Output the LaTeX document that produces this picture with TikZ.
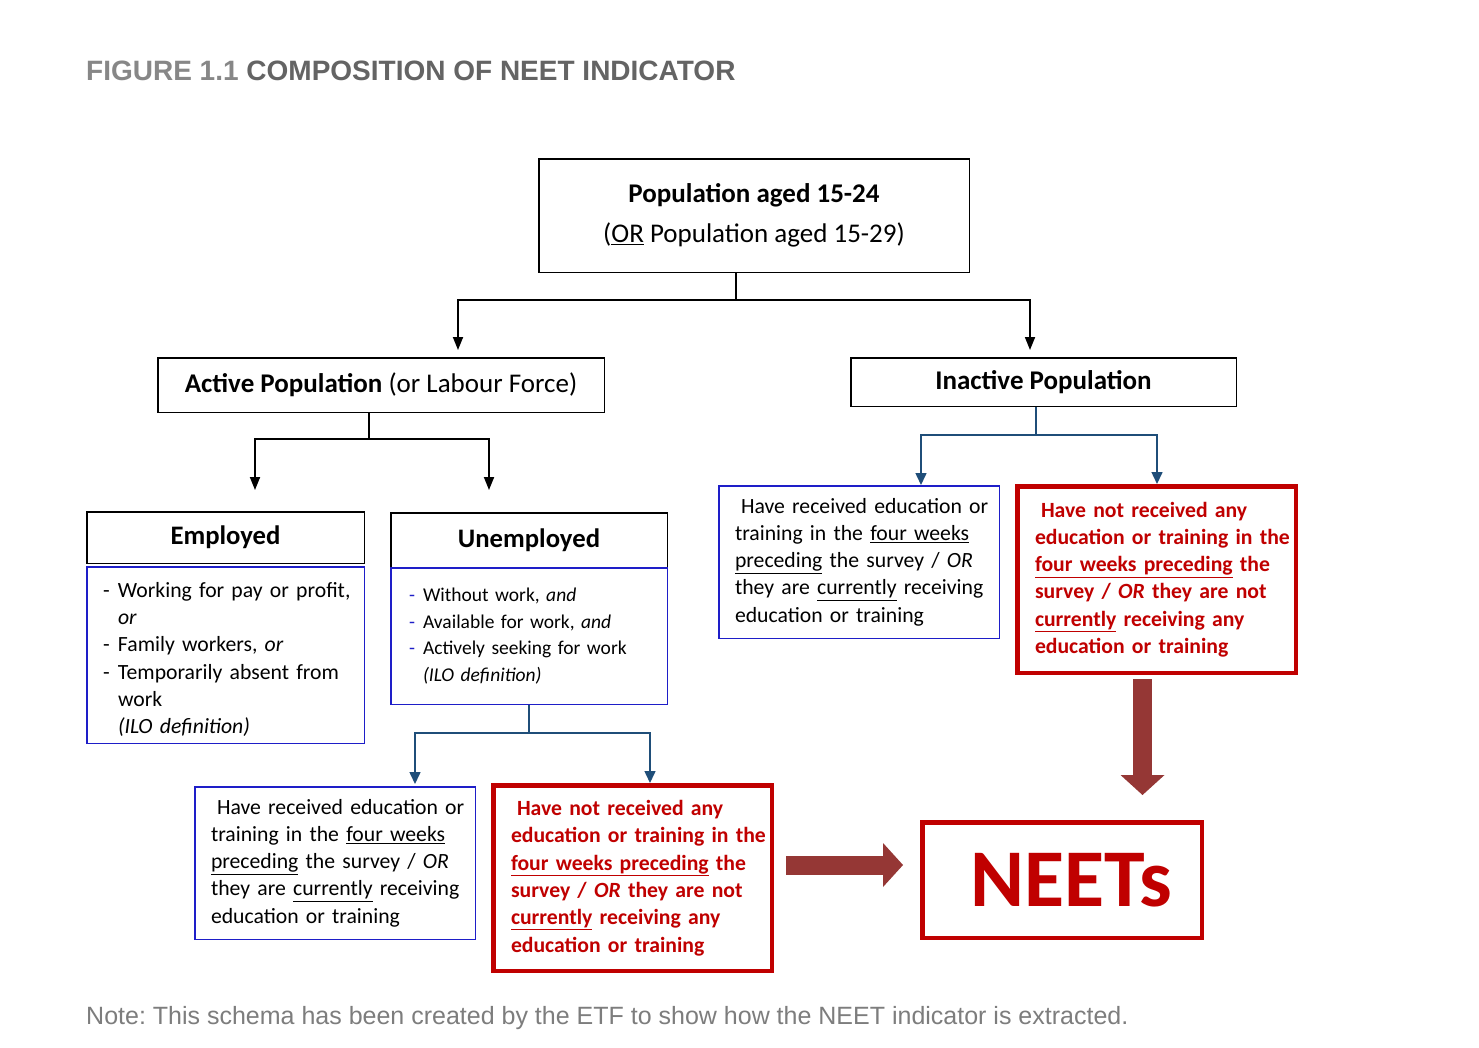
\documentclass[tikz,border=0pt]{standalone}
\usepackage{fontspec}
\setmainfont{Carlito}
\newfontfamily\arialfont{Liberation Sans}
\usetikzlibrary{arrows.meta, positioning, calc}
\definecolor{neetred}{RGB}{192, 0, 0}
\definecolor{boxblue}{RGB}{30, 30, 200}
\definecolor{linkblue}{RGB}{31, 78, 121}
\definecolor{fatred}{RGB}{149, 55, 53}
\definecolor{titlegray}{RGB}{100, 100, 100}
\definecolor{figgray}{RGB}{135, 135, 135}
\definecolor{notegray}{RGB}{125, 125, 125}
\frenchspacing

\begin{document}
\begin{tikzpicture}[
    x=1pt, y=-1pt,
    plainbox/.style={draw, line width=1.5pt, inner sep=0pt, align=center, font=\fontsize{27}{32}\selectfont},
    bluebox/.style={draw=boxblue, line width=1.5pt, inner sep=0pt, align=left, font=\fontsize{21.7}{27.3}\selectfont},
    redbox/.style={draw=neetred, line width=4.5pt, inner sep=0pt, align=left, text=neetred, font=\fontsize{21.7}{27.3}\selectfont\bfseries},
    arrow/.style={-{Triangle[length=13pt, width=10pt]}, line width=1.8pt},
    bluearrow/.style={-{Triangle[length=12pt, width=11pt]}, line width=1.5pt, linkblue},
    fatarrow/.style={-{Triangle[length=20pt, width=44pt, line width=0pt]}, line width=19pt, fatred}
]
\useasboundingbox[fill=white] (0,0) rectangle (1479,1047);

% Title and note
\node[anchor=west, inner sep=0pt, font=\arialfont\bfseries\fontsize{28}{32}\selectfont] (title) at (86,71)
    {\textcolor{figgray}{FIGURE 1.1} \textcolor{titlegray}{COMPOSITION OF NEET INDICATOR}};
\node[anchor=west, inner sep=0pt, text=notegray, font=\arialfont\fontsize{25}{29}\selectfont] (note) at (86,1018)
    {Note: This schema has been created by the ETF to show how the NEET indicator is extracted.};

% Population
\node[plainbox, minimum width=430.5pt, minimum height=113.5pt] (top) at (754,215.5)
    {\textbf{Population aged 15-24}\\[8pt](\underline{OR} Population aged 15-29)};
\node[plainbox, minimum width=446.5pt, minimum height=54.5pt] (active) at (381,385)
    {\textbf{Active Population} (or Labour Force)};
\node[plainbox, minimum width=385.5pt, minimum height=48.5pt] (inactive) at (1043.5,382)
    {\textbf{Inactive Population}};

% Employed
\node[plainbox, minimum width=277.5pt, minimum height=51.5pt, font=\fontsize{26.7}{31}\selectfont\bfseries] (emphead) at (225.5,537.5) {Employed};
\node[bluebox, text width=245pt, minimum width=277.5pt, minimum height=176.5pt] (empbody) at (225.5,655) {%
    \mbox{\rule{0pt}{24pt}\makebox[15pt][l]{-}Working for pay or profit,}\\
    \mbox{\hspace*{15pt}\textit{or}}\\
    \mbox{\makebox[15pt][l]{-}Family workers, \textit{or}}\\
    \mbox{\makebox[15pt][l]{-}Temporarily absent from}\\
    \mbox{\hspace*{15pt}work}\\
    \mbox{\hspace*{15pt}\textit{(ILO definition)}}};

% Unemployed
\node[plainbox, minimum width=276.5pt, minimum height=54.5pt, font=\fontsize{26.7}{31}\selectfont\bfseries] (unhead) at (529,540) {Unemployed};
\node[bluebox, text width=240pt, minimum width=276.5pt, minimum height=136.5pt, font=\fontsize{19.5}{26.5}\selectfont] (unbody) at (529,636) {%
    \mbox{\textcolor{boxblue}{\makebox[14pt][l]{-}}Without work, \textit{and}}\\
    \mbox{\textcolor{boxblue}{\makebox[14pt][l]{-}}Available for work, \textit{and}}\\
    \mbox{\textcolor{boxblue}{\makebox[14pt][l]{-}}Actively seeking for work}\\
    \mbox{\hspace*{14pt}\textit{(ILO definition)}}};

% Inactive branches
\node[bluebox, text width=248pt, minimum width=280.5pt, minimum height=152.5pt] (inaedu) at (859,562) {%
    \mbox{\hspace*{6pt}Have received education or}\\
    \mbox{training in the \underline{four weeks}}\\
    \mbox{\underline{preceding} the survey / \textit{OR}}\\
    \mbox{they are \underline{currently} receiving}\\
    \mbox{education or training}};
\node[redbox, text width=243pt, minimum width=278.5pt, minimum height=186.5pt] (inaneet) at (1156.5,579.5) {%
    \mbox{\hspace*{6pt}Have not received any}\\
    \mbox{education or training in the}\\
    \mbox{\underline{four weeks preceding} the}\\
    \mbox{survey / \textit{OR} they are not}\\
    \mbox{\underline{currently} receiving any}\\
    \mbox{education or training}};

% Unemployed branches
\node[bluebox, text width=248pt, minimum width=280.5pt, minimum height=152.5pt] (unedu) at (335,863) {%
    \mbox{\hspace*{6pt}Have received education or}\\
    \mbox{training in the \underline{four weeks}}\\
    \mbox{\underline{preceding} the survey / \textit{OR}}\\
    \mbox{they are \underline{currently} receiving}\\
    \mbox{education or training}};
\node[redbox, text width=243pt, minimum width=278.5pt, minimum height=185.5pt] (unneet) at (632.5,878) {%
    \mbox{\hspace*{6pt}Have not received any}\\
    \mbox{education or training in the}\\
    \mbox{\underline{four weeks preceding} the}\\
    \mbox{survey / \textit{OR} they are not}\\
    \mbox{\underline{currently} receiving any}\\
    \mbox{education or training}};

% NEETs
\node[redbox, align=center, minimum width=279.5pt, minimum height=115.5pt, text depth=0pt, font=\fontsize{82}{90}\selectfont\bfseries] (neets) at (1062,880) {\hspace*{18pt}NEETs};

% Split points
\coordinate (topsplit) at (736,300);
\coordinate (actin) at (458,350);
\coordinate (inactin) at (1030,350);
\coordinate (actsplit) at (369,439);
\coordinate (empin) at (255,490);
\coordinate (unin) at (489,490);
\coordinate (inasplit) at (1036,435);
\coordinate (inaeduin) at (921,485);
\coordinate (inaneetin) at (1157,484);
\coordinate (unsplit) at (529,733);
\coordinate (uneduin) at (415,784);
\coordinate (unneetin) at (650,783);
\coordinate (fatx) at (1142.5,0);
\coordinate (faty) at (0,865);

% Connectors
\draw[arrow] (top.south -| topsplit) -- (topsplit) -| (actin);
\draw[arrow] (topsplit) -| (inactin);
\draw[arrow] (active.south -| actsplit) -- (actsplit) -| (empin);
\draw[arrow] (actsplit) -| (unin);
\draw[bluearrow] (inactive.south -| inasplit) -- (inasplit) -| (inaeduin);
\draw[bluearrow] (inasplit) -| (inaneetin);
\draw[bluearrow] (unbody.south -| unsplit) -- (unsplit) -| (uneduin);
\draw[bluearrow] (unsplit) -| (unneetin);

% Into NEETs
\draw[fatarrow, shorten <=4pt, shorten >=25pt] (inaneet.south -| fatx) -- (neets.north -| fatx);
\draw[fatarrow, shorten <=12pt, shorten >=17pt] (unneet.east |- faty) -- (neets.west |- faty);

\end{tikzpicture}
\end{document}
